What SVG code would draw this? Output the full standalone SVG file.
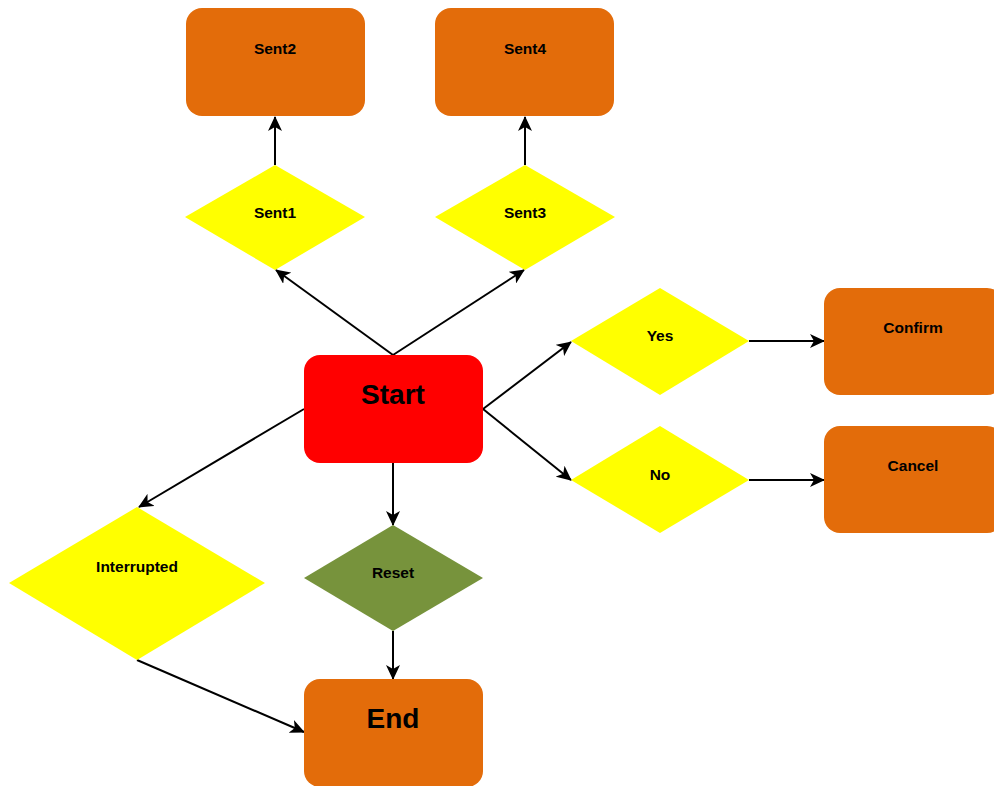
<svg xmlns="http://www.w3.org/2000/svg" width="994" height="786" viewBox="0 0 994 786">
<defs>
<style>
.box{fill:#E36C0A;}
.dia{fill:#FFFF00;}
.t{font-family:"Liberation Sans",Arial,sans-serif;font-weight:bold;font-size:15.5px;fill:#000;text-anchor:middle;}
.big{font-size:28px;}
.e{stroke:#000;stroke-width:2;fill:none;marker-end:url(#ah);}
</style>
<marker id="ah" markerWidth="15" markerHeight="14" viewBox="0 0 15 14" refX="14" refY="7" orient="auto" markerUnits="userSpaceOnUse">
<path d="M0,0 L15,7 L0,14 L4,7 z" fill="#000"/>
</marker>
</defs>
<g id="connectors">
<line class="e" x1="393" y1="355" x2="276" y2="270"/>
<line class="e" x1="393" y1="355" x2="524" y2="270"/>
<line class="e" x1="275" y1="165" x2="275" y2="117"/>
<line class="e" x1="525" y1="165" x2="525" y2="117"/>
<line class="e" x1="483" y1="409" x2="571" y2="342"/>
<line class="e" x1="483" y1="409" x2="571" y2="480"/>
<line class="e" x1="749" y1="341" x2="824" y2="341"/>
<line class="e" x1="749" y1="480" x2="824" y2="480"/>
<line class="e" x1="304" y1="409" x2="139" y2="507"/>
<line class="e" x1="393" y1="463" x2="393" y2="525"/>
<line class="e" x1="393" y1="631" x2="393" y2="679"/>
<line class="e" x1="137" y1="660" x2="304" y2="732"/>
</g>
<g id="sent2"><rect class="box" x="186" y="8" width="179" height="108" rx="16"/><text class="t" x="275" y="54">Sent2</text></g>
<g id="sent4"><rect class="box" x="435" y="8" width="179" height="108" rx="16"/><text class="t" x="525" y="54">Sent4</text></g>
<g id="sent1"><polygon class="dia" points="275,165 365,217 275,270 185,217"/><text class="t" x="275" y="218">Sent1</text></g>
<g id="sent3"><polygon class="dia" points="525,165 615,217 525,270 435,217"/><text class="t" x="525" y="218">Sent3</text></g>
<g id="start"><rect x="304" y="355" width="179" height="108" rx="16" fill="#FF0000"/><text class="t big" x="393" y="404">Start</text></g>
<g id="yes"><polygon class="dia" points="660,288 749,341 660,395 571,341"/><text class="t" x="660" y="341">Yes</text></g>
<g id="no"><polygon class="dia" points="660,426 749,480 660,533 571,480"/><text class="t" x="660" y="480">No</text></g>
<g id="confirm"><rect class="box" x="824" y="288" width="179" height="107" rx="16"/><text class="t" x="913" y="333">Confirm</text></g>
<g id="cancel"><rect class="box" x="824" y="426" width="179" height="107" rx="16"/><text class="t" x="913" y="471">Cancel</text></g>
<g id="interrupted"><polygon class="dia" points="137,507 265,583 137,660 9,583"/><text class="t" x="137" y="572">Interrupted</text></g>
<g id="reset"><polygon points="393,525 483,578 393,631 304,578" fill="#77933C"/><text class="t" x="393" y="578">Reset</text></g>
<g id="end"><rect class="box" x="304" y="679" width="179" height="108" rx="16"/><text class="t big" x="393" y="728">End</text></g>
</svg>
